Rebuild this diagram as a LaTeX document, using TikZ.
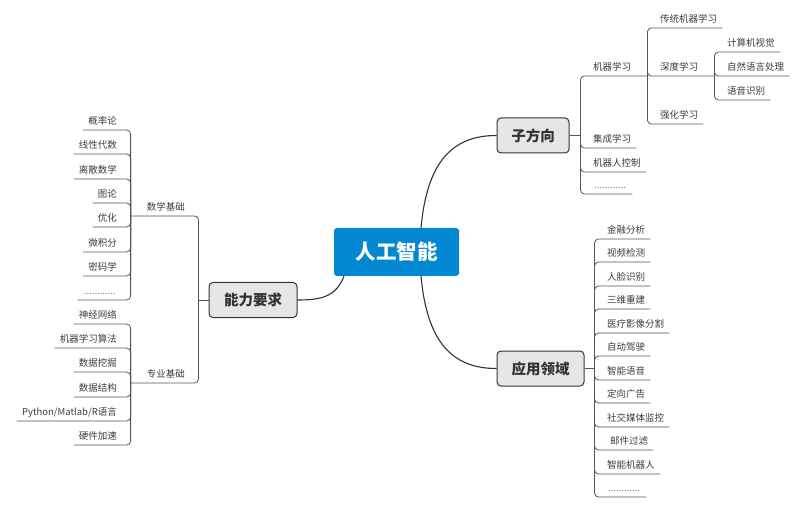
\documentclass[tikz,border=0pt]{standalone}
\usepackage{fontspec}
\setmainfont{Noto Sans CJK SC}
\usetikzlibrary{positioning}
\definecolor{rootblue}{HTML}{0288D1}
\definecolor{boxgray}{HTML}{E6E6E6}
\definecolor{darkline}{HTML}{333333}
\definecolor{leafline}{HTML}{555555}
\definecolor{leaftext}{HTML}{3C3C3C}

\begin{document}
\begin{tikzpicture}[
    x=1pt, y=-1pt,
    font=\fontsize{9.5}{11}\selectfont,
    root/.style={fill=rootblue, text=white, rounded corners=3pt, minimum width=125pt, minimum height=48pt, font=\fontsize{20.5}{24}\selectfont\bfseries},
    topic/.style={draw=darkline, line width=1pt, fill=boxgray, rounded corners=4pt, minimum height=35pt, text=darkline, font=\fontsize{14.5}{17}\selectfont\bfseries},
    leaf/.style={inner xsep=5pt, inner ysep=3.5pt, text height=8pt, text depth=2pt, text=leaftext},
    more/.style={leaf, text=gray, minimum width=44pt},
    curve/.style={draw=darkline, line width=1.1pt},
    ln/.style={draw=leafline, line width=0.8pt, rounded corners=4pt},
]
\useasboundingbox (0,0) rectangle (793,505);

% centre and main topics
\node[root] (ai) at (396.5,252) {人工智能};
\node[topic, minimum width=72pt] (zfx)  at (533,135.5) {子方向};
\node[topic, minimum width=87pt] (yyly) at (540.5,368.5) {应用领域};
\node[topic, minimum width=88pt] (nlyq) at (253,300) {能力要求};

\draw[curve] ([xshift=24.5pt]ai.north) .. controls +(6,-65) and +(-45,0) .. (zfx.west);
\draw[curve] ([xshift=24.5pt]ai.south) .. controls +(6,65) and +(-45,0) .. (yyly.west);
\draw[curve] ([xshift=-52.5pt]ai.south) .. controls +(-8,20) and +(25,0) .. (nlyq.east);

% 子方向
\node[leaf, anchor=south west] (jqxx)    at (588,76)  {机器学习};
\node[leaf, anchor=south west] (jcxx)    at (588,148) {集成学习};
\node[leaf, anchor=south west] (jqrkz)   at (588,172) {机器人控制};
\node[more, anchor=south west] (zfxmore) at (588,194) {............};

\node[leaf, anchor=south west] (ctjq) at (655,28)  {传统机器学习};
\node[leaf, anchor=south west] (sdxx) at (655,76)  {深度学习};
\node[leaf, anchor=south west] (qhxx) at (655,124) {强化学习};

\node[leaf, anchor=south west] (jsjsj) at (722,52)  {计算机视觉};
\node[leaf, anchor=south west] (zryy)  at (722,76)  {自然语言处理};
\node[leaf, anchor=south west] (yysb)  at (722,100) {语音识别};

\draw[ln] (zfx.east) -- ++(11,0) coordinate (zfxj);
\draw[ln] (zfxj) |- (jqxx.south west) -- (jqxx.south east) -- ++(11,0) coordinate (jqxxj);
\draw[ln] (zfxj) |- (jcxx.south west) -- (jcxx.south east);
\draw[ln] (zfxj) |- (jqrkz.south west) -- (jqrkz.south east);
\draw[ln] (zfxj) |- (zfxmore.south west) -- (zfxmore.south east);

\draw[ln] (jqxxj) |- (ctjq.south west) -- (ctjq.south east);
\draw[ln] (jqxxj) |- (sdxx.south west) -- (sdxx.south east) -- ++(11,0) coordinate (sdxxj);
\draw[ln] (jqxxj) |- (qhxx.south west) -- (qhxx.south east);

\draw[ln] (sdxxj) |- (jsjsj.south west) -- (jsjsj.south east);
\draw[ln] (sdxxj) |- (zryy.south west) -- (zryy.south east);
\draw[ln] (sdxxj) |- (yysb.south west) -- (yysb.south east);

% 应用领域
\node[leaf, anchor=south west] (jrfx)   at (602,239) {金融分析};
\node[leaf, anchor=south west] (spjc)   at (602,262) {视频检测};
\node[leaf, anchor=south west] (rlsb)   at (602,286) {人脸识别};
\node[leaf, anchor=south west] (swcj)   at (602,309) {三维重建};
\node[leaf, anchor=south west] (ylyx)   at (602,333) {医疗影像分割};
\node[leaf, anchor=south west] (zdjs)   at (602,356) {自动驾驶};
\node[leaf, anchor=south west] (znyy)   at (602,380) {智能语音};
\node[leaf, anchor=south west] (dxgg)   at (602,403) {定向广告};
\node[leaf, anchor=south west] (sjmt)   at (602,427) {社交媒体监控};
\node[leaf, anchor=south west] (yjgl)   at (605,450) {邮件过滤};
\node[leaf, anchor=south west] (znjqr)  at (602,474) {智能机器人};
\node[more, anchor=south west] (yymore) at (602,497) {............};

\draw[ln] (yyly.east) -- ++(10,0) coordinate (yylyj);
\draw[ln] (yylyj) |- (jrfx.south west) -- (jrfx.south east);
\draw[ln] (yylyj) |- (spjc.south west) -- (spjc.south east);
\draw[ln] (yylyj) |- (rlsb.south west) -- (rlsb.south east);
\draw[ln] (yylyj) |- (swcj.south west) -- (swcj.south east);
\draw[ln] (yylyj) |- (ylyx.south west) -- (ylyx.south east);
\draw[ln] (yylyj) |- (zdjs.south west) -- (zdjs.south east);
\draw[ln] (yylyj) |- (znyy.south west) -- (znyy.south east);
\draw[ln] (yylyj) |- (dxgg.south west) -- (dxgg.south east);
\draw[ln] (yylyj) |- (sjmt.south west) -- (sjmt.south east);
\draw[ln] (yylyj) |- (yjgl.south west) -- (yjgl.south east);
\draw[ln] (yylyj) |- (znjqr.south west) -- (znjqr.south east);
\draw[ln] (yylyj) |- (yymore.south west) -- (yymore.south east);

% 能力要求
\node[leaf, anchor=south east] (sxjc) at (190,216) {数学基础};
\node[leaf, anchor=south east] (zyjc) at (190,383) {专业基础};

\node[leaf, anchor=south east] (gll)    at (122,130) {概率论};
\node[leaf, anchor=south east] (xxds)   at (122,154) {线性代数};
\node[leaf, anchor=south east] (lssx)   at (122,179) {离散数学};
\node[leaf, anchor=south east] (tl)     at (122,203) {图论};
\node[leaf, anchor=south east] (yh)     at (122,227) {优化};
\node[leaf, anchor=south east] (wjf)    at (122,252) {微积分};
\node[leaf, anchor=south east] (mmx)    at (122,276) {密码学};
\node[more, anchor=south east] (sxmore) at (122,300) {............};

\node[leaf, anchor=south east] (sjwl)   at (122,324) {神经网络};
\node[leaf, anchor=south east] (jqsf)   at (122,348) {机器学习算法};
\node[leaf, anchor=south east] (sjwj)   at (122,372) {数据挖掘};
\node[leaf, anchor=south east] (sjjg)   at (122,397) {数据结构};
\node[leaf, anchor=south east] (pmr)    at (122,421) {Python/Matlab/R语言};
\node[leaf, anchor=south east] (yjjs)   at (122,445) {硬件加速};

\draw[ln] (nlyq.west) -- ++(-10,0) coordinate (nlyqj);
\draw[ln] (nlyqj) |- (sxjc.south east) -- (sxjc.south west) -- ++(-11,0) coordinate (sxjcj);
\draw[ln] (nlyqj) |- (zyjc.south east) -- (zyjc.south west) -- ++(-11,0) coordinate (zyjcj);

\draw[ln] (sxjcj) |- (gll.south east) -- (gll.south west);
\draw[ln] (sxjcj) |- (xxds.south east) -- (xxds.south west);
\draw[ln] (sxjcj) |- (lssx.south east) -- (lssx.south west);
\draw[ln] (sxjcj) |- (tl.south east) -- (tl.south west);
\draw[ln] (sxjcj) |- (yh.south east) -- (yh.south west);
\draw[ln] (sxjcj) |- (wjf.south east) -- (wjf.south west);
\draw[ln] (sxjcj) |- (mmx.south east) -- (mmx.south west);
\draw[ln] (sxjcj) |- (sxmore.south east) -- (sxmore.south west);

\draw[ln] (zyjcj) |- (sjwl.south east) -- (sjwl.south west);
\draw[ln] (zyjcj) |- (jqsf.south east) -- (jqsf.south west);
\draw[ln] (zyjcj) |- (sjwj.south east) -- (sjwj.south west);
\draw[ln] (zyjcj) |- (sjjg.south east) -- (sjjg.south west);
\draw[ln] (zyjcj) |- (pmr.south east) -- (pmr.south west);
\draw[ln] (zyjcj) |- (yjjs.south east) -- (yjjs.south west);

\end{tikzpicture}
\end{document}
